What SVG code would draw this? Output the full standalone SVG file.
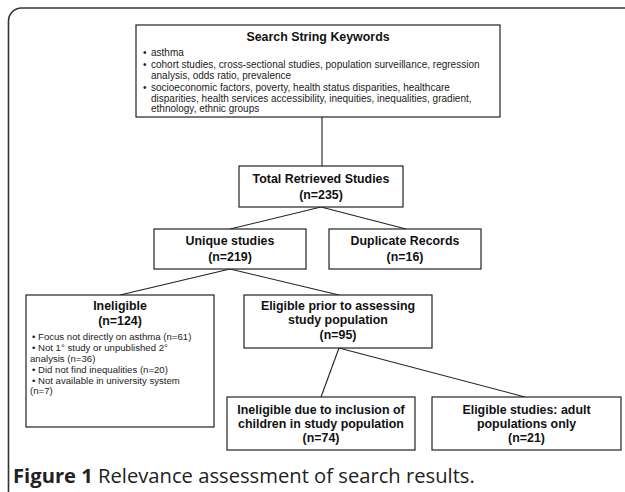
<svg xmlns="http://www.w3.org/2000/svg" width="625" height="492" viewBox="0 0 625 492">
<style>
.box{fill:#fff;stroke:#222;stroke-width:1.2}
.b{font-family:"Liberation Sans",Arial,sans-serif;font-weight:bold;font-size:12.4px;fill:#111;text-anchor:middle}
.s{font-family:"Liberation Sans",Arial,sans-serif;font-size:10px;fill:#222}
.s2{font-family:"Liberation Sans",Arial,sans-serif;font-size:9.6px;fill:#222}
.c{stroke:#222;stroke-width:1.1;fill:none}
.cap{font-family:"Open Sans","Liberation Sans",sans-serif;font-size:20.2px;fill:#222}
</style>
<rect width="625" height="492" fill="#fff"/>
<path d="M8.5,492 V21 A13,13 0 0 1 21.5,8 H625" fill="none" stroke="#333" stroke-width="1.6"/>
<g id="connectors">
<line class="c" x1="322" y1="117" x2="322" y2="166"/>
<line class="c" x1="321" y1="207" x2="230" y2="229"/>
<line class="c" x1="321" y1="207" x2="406" y2="229"/>
<line class="c" x1="230" y1="269" x2="120" y2="295"/>
<line class="c" x1="230" y1="269" x2="339" y2="295"/>
<line class="c" x1="339" y1="348" x2="321" y2="397"/>
<line class="c" x1="339" y1="348" x2="525" y2="397"/>
</g>
<g id="search">
<rect class="box" x="136" y="25" width="364" height="92"/>
<text class="b" x="318" y="41">Search String Keywords</text>
<text class="s"><tspan x="143" y="55.5">•</tspan><tspan x="151" y="55.5">asthma</tspan>
<tspan x="143" y="68">•</tspan><tspan x="151" y="68">cohort studies, cross-sectional studies, population surveillance, regression</tspan>
<tspan x="151" y="78.5">analysis, odds ratio, prevalence</tspan>
<tspan x="143" y="91">•</tspan><tspan x="151" y="91">socioeconomic factors, poverty, health status disparities, healthcare</tspan>
<tspan x="151" y="101.5">disparities, health services accessibility, inequities, inequalities, gradient,</tspan>
<tspan x="151" y="112">ethnology, ethnic groups</tspan></text>
</g>
<g id="total">
<rect class="box" x="239" y="166" width="164" height="41"/>
<text class="b" x="321" y="183">Total Retrieved Studies</text>
<text class="b" x="321" y="199">(n=235)</text>
</g>
<g id="unique">
<rect class="box" x="154" y="229" width="152" height="40"/>
<text class="b" x="230" y="245">Unique studies</text>
<text class="b" x="230" y="261">(n=219)</text>
</g>
<g id="duplicate">
<rect class="box" x="329" y="229" width="152" height="40"/>
<text class="b" x="405" y="245">Duplicate Records</text>
<text class="b" x="405" y="261">(n=16)</text>
</g>
<g id="ineligible">
<rect class="box" x="26" y="295" width="188" height="132"/>
<text class="b" x="120" y="310">Ineligible</text>
<text class="b" x="120" y="325">(n=124)</text>
<text class="s2"><tspan x="32" y="340">• Focus not directly on asthma (n=61)</tspan>
<tspan x="32" y="351">• Not 1° study or unpublished 2°</tspan>
<tspan x="30" y="361.5">analysis (n=36)</tspan>
<tspan x="32" y="372.5">• Did not find inequalities (n=20)</tspan>
<tspan x="32" y="383.5">• Not available in university system</tspan>
<tspan x="30" y="394">(n=7)</tspan></text>
</g>
<g id="eligible-prior">
<rect class="box" x="244" y="295" width="188" height="53"/>
<text class="b" x="338" y="309.5">Eligible prior to assessing</text>
<text class="b" x="338" y="324">study population</text>
<text class="b" x="338" y="339">(n=95)</text>
</g>
<g id="ineligible-children">
<rect class="box" x="227" y="397" width="188" height="53"/>
<text class="b" x="321" y="413.5">Ineligible due to inclusion of</text>
<text class="b" x="321" y="427.5">children in study population</text>
<text class="b" x="321" y="442">(n=74)</text>
</g>
<g id="eligible-adult">
<rect class="box" x="432" y="397" width="189" height="53"/>
<text class="b" x="526.5" y="413.5">Eligible studies: adult</text>
<text class="b" x="526.5" y="427.5">populations only</text>
<text class="b" x="526.5" y="442">(n=21)</text>
</g>
<text class="cap" x="13" y="483"><tspan font-weight="bold">Figure 1</tspan> Relevance assessment of search results.</text>
</svg>
